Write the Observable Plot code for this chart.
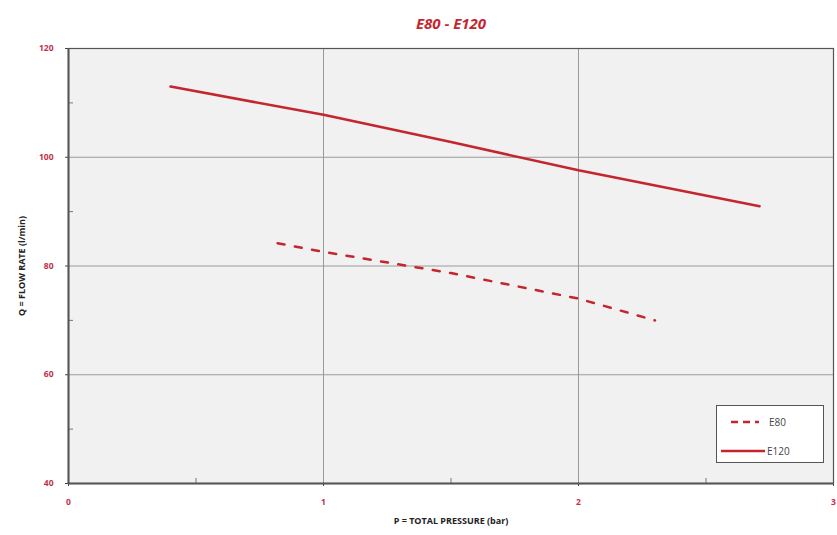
<!DOCTYPE html>
<html>
<head>
<meta charset="utf-8">
<script src="https://cdn.jsdelivr.net/npm/d3@7"></script>
<script src="https://cdn.jsdelivr.net/npm/@observablehq/plot@0.6"></script>
<style>
  body { margin: 0; background: #fff; }
  #wrap { position: relative; width: 837px; height: 535px; font-family: "Open Sans", sans-serif; }
  #legend { position: absolute; left: 716px; top: 405px; width: 108px; height: 58px; border: 1.5px solid #555; background: #fff; box-sizing: border-box; }
  #legend .row { position: absolute; left: 0; display: flex; align-items: center; font-size: 10px; color: #444; }
</style>
</head>
<body>
<div id="wrap"></div>
<script>
const titleText = "E80 - E120";
const xLabel = "P = TOTAL PRESSURE (bar)";
const yLabel = "Q = FLOW RATE (l/min)";
const seriesNames = ["E80", "E120"];
const e80P = [0.82, 1, 1.5, 2, 2.3];
const e80Q = [84.2, 82.6, 78.7, 74.0, 70.0];
const e120P = [0.4, 1, 1.5, 2, 2.71];
const e120Q = [113.0, 107.8, 102.8, 97.6, 91.0];
const xTicks = [0, 1, 2, 3];
const xMinor = [0.5, 1.5, 2.5];
const yTicks = [40, 60, 80, 100, 120];
const yMinor = [50, 70, 90, 110];

const red = "#c4262e";
const e80 = e80P.map((p, i) => ({p, q: e80Q[i]}));
const e120 = e120P.map((p, i) => ({p, q: e120Q[i]}));

const chart = Plot.plot({
  width: 837,
  height: 535,
  marginTop: 48,
  marginBottom: 52,
  marginLeft: 68,
  marginRight: 4,
  style: {fontFamily: "'Open Sans', sans-serif", background: "#fff"},
  x: {domain: [0, 3]},
  y: {domain: [40, 120]},
  marks: [
    Plot.frame({fill: "#f1f1f1", stroke: null}),
    Plot.gridX(xTicks.slice(1, 3), {stroke: "#9a9a9a", strokeOpacity: 1, strokeWidth: 1}),
    Plot.gridY(yTicks.slice(1, 4), {stroke: "#9a9a9a", strokeOpacity: 1, strokeWidth: 1}),
    Plot.axisX(xMinor, {tickSize: -5, tickFormat: () => "", stroke: "#777", label: null}),
    Plot.axisY(yMinor, {tickSize: -5, tickFormat: () => "", stroke: "#777", label: null}),
    Plot.axisX(xTicks, {tickSize: 3, tickPadding: 12, fontSize: 8.5, fontWeight: "bold", fill: "#c0304a", stroke: "#444",
      tickFormat: d => String(d),
      label: xLabel, labelAnchor: "center", labelOffset: 40, labelArrow: "none"}),
    Plot.axisY(yTicks, {tickSize: 3, tickPadding: 12, fontSize: 8.5, fontWeight: "bold", fill: "#c0304a", stroke: "#444",
      tickFormat: d => String(d),
      label: yLabel, labelAnchor: "center", labelOffset: 50, labelArrow: "none"}),
    Plot.frame({stroke: "#555", strokeWidth: 1.2}),
    Plot.ruleX([0], {stroke: "#555", strokeWidth: 2}),
    Plot.ruleY([40], {stroke: "#555", strokeWidth: 2}),
    Plot.line(e80, {x: "p", y: "q", stroke: red, strokeWidth: 2.5, strokeDasharray: "7,10.5"}),
    Plot.line(e120, {x: "p", y: "q", stroke: red, strokeWidth: 2.5}),
    Plot.text([titleText], {frameAnchor: "top", dy: -30, fill: red, fontSize: 15, fontWeight: "bold", fontStyle: "italic"})
  ]
});
const wrap = document.getElementById("wrap");
wrap.appendChild(chart);
d3.select(chart).selectAll("[aria-label='x-axis label'] text, [aria-label='y-axis label'] text")
  .attr("font-size", 9).attr("font-weight", "bold").attr("fill", "#222");

const legend = document.createElement("div");
legend.id = "legend";
legend.innerHTML = `
  <div class="row" style="top:9px;left:10px"><svg width="36" height="10"><line x1="4" y1="5" x2="32" y2="5" stroke="${red}" stroke-width="2.5" stroke-dasharray="7,5"/></svg><span style="margin-left:6px">${seriesNames[0]}</span></div>
  <div class="row" style="top:38px;left:2px"><svg width="46" height="10"><line x1="2" y1="5" x2="46" y2="5" stroke="${red}" stroke-width="2.5"/></svg><span style="margin-left:2px">${seriesNames[1]}</span></div>`;
wrap.appendChild(legend);
</script>
</body>
</html>
